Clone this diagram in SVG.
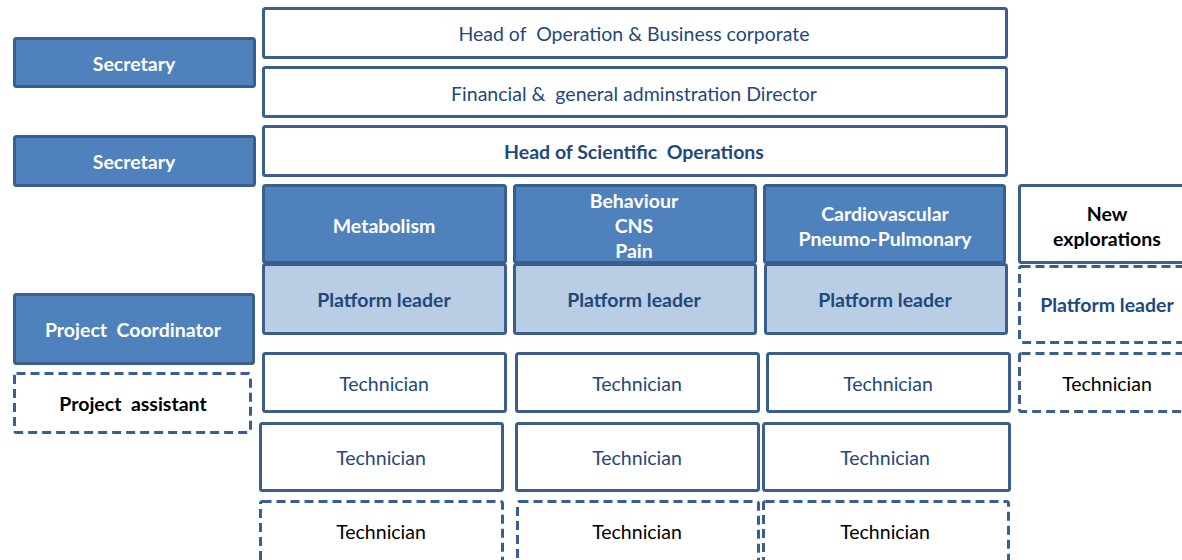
<svg xmlns="http://www.w3.org/2000/svg" width="1182" height="560" viewBox="0 0 1182 560">
<style>
rect{stroke:#3A5F8F;stroke-width:3}
.blue{fill:#4F81BD}
.light{fill:#B9CDE5}
.white{fill:#FFFFFF}
.dash{fill:#FFFFFF;stroke-dasharray:9 5}
text{font-family:Lato,"Liberation Sans",sans-serif;text-anchor:middle;dominant-baseline:central;white-space:pre;font-size:19.5px}
.tw{fill:#FFFFFF;font-weight:bold}
.tb{fill:#1F497D}
.tbb{fill:#1F497D;font-weight:bold}
.tk{fill:#000000}
.tkb{fill:#000000;font-weight:bold}
</style>
<rect width="1182" height="560" fill="#FFFFFF" style="stroke:none"/>
<g id="secretary1"><rect class="blue" x="14.5" y="38.5" width="240" height="48" rx="2"/><text class="tw" x="134" y="63">Secretary</text></g>
<g id="secretary2"><rect class="blue" x="14.5" y="136.5" width="240" height="49" rx="2"/><text class="tw" x="134" y="161">Secretary</text></g>
<g id="project-coordinator"><rect class="blue" x="14.5" y="294.5" width="239" height="69" rx="2"/><text class="tw" x="133" y="329" xml:space="preserve">Project  Coordinator</text></g>
<g id="project-assistant"><rect class="dash" x="14.5" y="373.5" width="236" height="59" rx="2"/><text class="tkb" x="133" y="403" xml:space="preserve">Project  assistant</text></g>
<g id="head-operation"><rect class="white" x="263.5" y="8.5" width="743" height="49" rx="2"/><text class="tb" x="634" y="33" xml:space="preserve">Head of  Operation &amp; Business corporate</text></g>
<g id="financial-director"><rect class="white" x="263.5" y="67.5" width="743" height="49" rx="2"/><text class="tb" x="634" y="93" xml:space="preserve">Financial &amp;  general adminstration Director</text></g>
<g id="head-scientific"><rect class="white" x="263.5" y="126.5" width="743" height="49" rx="2"/><text class="tbb" x="634" y="151" xml:space="preserve">Head of Scientific  Operations</text></g>
<g id="metabolism"><rect class="blue" x="263.5" y="185.5" width="242" height="77" rx="2"/><text class="tw" x="384" y="225">Metabolism</text></g>
<g id="behaviour"><rect class="blue" x="514.5" y="185.5" width="241" height="77" rx="2"/><text class="tw" x="634" y="200">Behaviour</text><text class="tw" x="634" y="225">CNS</text><text class="tw" x="634" y="250">Pain</text></g>
<g id="cardiovascular"><rect class="blue" x="764.5" y="185.5" width="240" height="77" rx="2"/><text class="tw" x="885" y="213">Cardiovascular</text><text class="tw" x="885" y="238">Pneumo-Pulmonary</text></g>
<g id="new-explorations"><rect class="white" x="1019.5" y="185.5" width="180" height="77" rx="2"/><text class="tkb" x="1107" y="213">New</text><text class="tkb" x="1107" y="238">explorations</text></g>
<g id="platform-metabolism"><rect class="light" x="263.5" y="264.5" width="242" height="69" rx="2"/><text class="tbb" x="384" y="299">Platform leader</text></g>
<g id="platform-behaviour"><rect class="light" x="514.5" y="264.5" width="241" height="69" rx="2"/><text class="tbb" x="634" y="299">Platform leader</text></g>
<g id="platform-cardio"><rect class="light" x="765.5" y="264.5" width="241" height="69" rx="2"/><text class="tbb" x="885" y="299">Platform leader</text></g>
<g id="platform-new"><rect class="dash" x="1019.5" y="266.5" width="180" height="76" rx="2"/><text class="tbb" x="1107" y="304">Platform leader</text></g>
<g id="tech-1-1"><rect class="white" x="263.5" y="353.5" width="242" height="58" rx="2"/><text class="tb" x="384" y="383">Technician</text></g>
<g id="tech-2-1"><rect class="white" x="516.5" y="353.5" width="242" height="58" rx="2"/><text class="tb" x="637" y="383">Technician</text></g>
<g id="tech-3-1"><rect class="white" x="767.5" y="353.5" width="242" height="58" rx="2"/><text class="tb" x="888" y="383">Technician</text></g>
<g id="tech-4-1"><rect class="dash" x="1019.5" y="353.5" width="180" height="58" rx="2"/><text class="tk" x="1107" y="383">Technician</text></g>
<g id="tech-1-2"><rect class="white" x="260.5" y="423.5" width="242" height="67" rx="2"/><text class="tb" x="381" y="457">Technician</text></g>
<g id="tech-2-2"><rect class="white" x="516.5" y="423.5" width="242" height="67" rx="2"/><text class="tb" x="637" y="457">Technician</text></g>
<g id="tech-3-2"><rect class="white" x="763.5" y="423.5" width="246" height="67" rx="2"/><text class="tb" x="885" y="457">Technician</text></g>
<g id="tech-1-3"><rect class="dash" x="260.5" y="501.5" width="242" height="70" rx="2"/><text class="tk" x="381" y="531">Technician</text></g>
<g id="tech-2-3"><rect class="dash" x="517.5" y="501.5" width="241" height="70" rx="2"/><text class="tk" x="637" y="531">Technician</text></g>
<g id="tech-3-3"><rect class="dash" x="763.5" y="501.5" width="245" height="70" rx="2"/><text class="tk" x="885" y="531">Technician</text></g>
<g id="connectors"></g>
</svg>
